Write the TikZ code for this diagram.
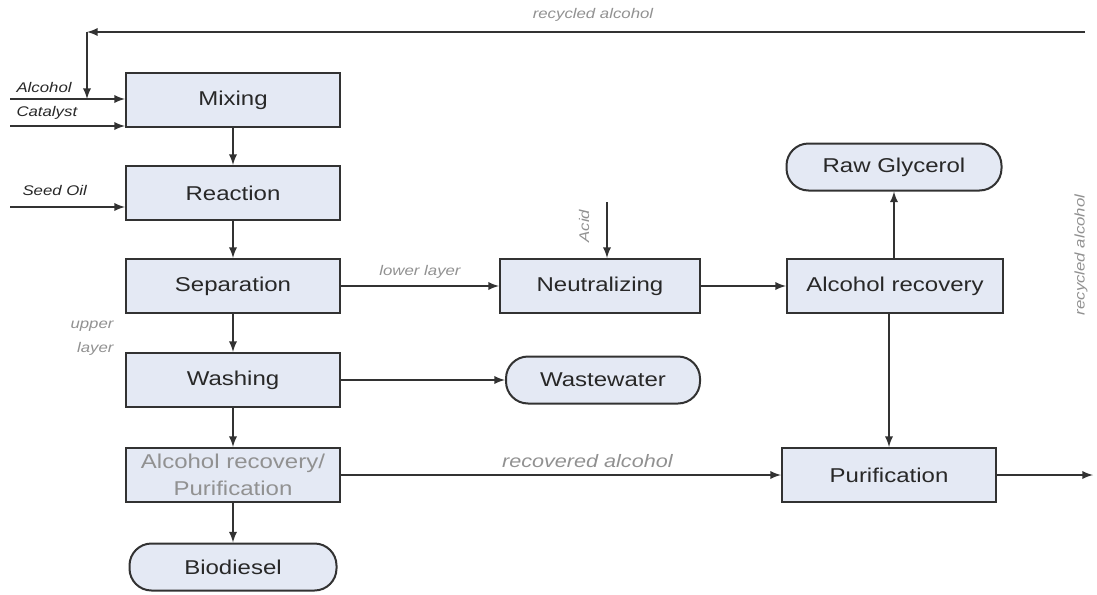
\documentclass[tikz,border=0pt]{standalone}
\usepackage{fontspec}
\setmainfont{Liberation Sans}[FakeStretch=1.2]
\usepackage{tikz}
\usetikzlibrary{arrows}
\definecolor{boxfill}{RGB}{228,233,244}
\definecolor{boxline}{RGB}{50,50,50}
\definecolor{txt}{RGB}{40,40,40}
\definecolor{lite}{RGB}{145,145,145}
\tikzset{box/.style={draw=boxline,fill=boxfill,line width=1pt,minimum width=107pt,minimum height=27pt,inner sep=1pt,text=txt,font=\fontsize{10}{13.5}\selectfont}}
\tikzset{term/.style={box,rounded corners=11pt,minimum height=23.5pt,minimum width=103.5pt}}
\tikzset{l/.style={font=\fontsize{7}{8}\selectfont\itshape,text=txt}}
\tikzset{m/.style={font=\fontsize{7}{12}\selectfont\itshape,text=lite}}

\begin{document}
\begin{tikzpicture}[x=0.5pt,y=-0.5pt,>=latex,line width=0.85pt,color=boxline]
          \useasboundingbox (0,0) rectangle (1097,594);
          % main line
          \node[box] (mix) at (233,100) {Mixing};
          \node[box] (rea) at (233,193) {Reaction}
            edge [<-] (mix);
          \node[box] (sep) at (233,286) {Separation}
            edge [<-] (rea);
          \node[box] (wash) at (233,380) {Washing}
            edge [<-] (sep);
          \node[box, text=lite, align=center] (arp) at (233,475) {Alcohol recovery/\\Purification}
            edge [<-] (wash);
          \node[term] (bio) at (233,567) {Biodiesel}
            edge [<-] (arp);
          \node[m, align=right, anchor=east] (upper) at (121,338) {upper\\layer};
          % glycerol side
          \node[box, minimum width=100pt] (neu) at (600,286) {Neutralizing}
            edge [<-] node [m, above] {lower layer} (sep);
          \node[box, minimum width=108pt] (alc) at (895,286) {Alcohol recovery}
            edge [<-] (neu);
          \node[term, minimum width=107.5pt] (gly) at (894,167) {Raw Glycerol};
          \draw[->] (alc.north -| gly) -- (gly);
          \node[box, minimum width=107pt] (pur) at (889,475) {Purification}
            edge [<-] node [m, above, pos=0.44, font=\fontsize{9}{10}\selectfont\itshape] {recovered alcohol} (arp);
          \draw[->] (alc.south -| pur) -- (pur);
          \node[term, minimum width=97pt] (ww) at (603,380) {Wastewater}
            edge [<-] (wash);
          % inputs
          \coordinate (alcin) at (10,99);
          \coordinate (catin) at (10,126);
          \coordinate (oilin) at (10,207);
          \draw[->] (alcin) -- (alcin -| mix.west);
          \draw[->] (catin) -- (catin -| mix.west);
          \draw[->] (oilin) -- (oilin -| rea.west);
          \node[l, anchor=west] (alctxt) at (9,87) {Alcohol};
          \node[l, anchor=west] (cattxt) at (9,113) {Catalyst};
          \node[l, anchor=west] (oiltxt) at (15,190) {Seed Oil};
          \coordinate (acidin) at (607,202);
          \draw[->] (acidin) -- (acidin |- neu.north);
          \node[m, rotate=90] (acid) at (584,226) {Acid};
          % recycle and output
          \coordinate (rin) at (1085,32);
          \coordinate (rturn) at (87,32);
          \draw[->] (rin) -- (rturn);
          \draw[->] (rturn) -- (rturn |- alcin);
          \node[m] (rtop) at (593,15) {recycled alcohol};
          \node[m, rotate=90] (rside) at (1081,255) {recycled alcohol};
          \coordinate (out) at (1093,475);
          \draw[->] (pur) -- (out);
        \end{tikzpicture}
\end{document}
